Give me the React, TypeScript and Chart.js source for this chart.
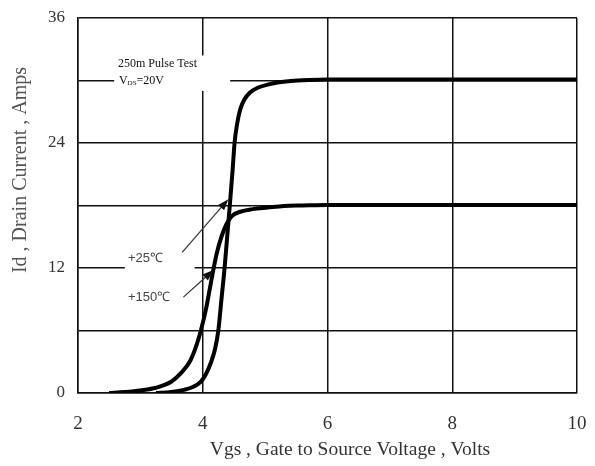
import React, { useEffect, useRef } from "react";
import { Chart, registerables } from "chart.js";

Chart.register(...registerables);

// Vgs (V) vs Id (A) at +25°C
const vgs25 = [3.25, 3.5, 3.7, 3.85, 3.97, 4.05, 4.13, 4.2, 4.25, 4.3, 4.35, 4.4, 4.44, 4.48, 4.51, 4.55, 4.6, 4.67, 4.75, 4.88, 5.04, 5.2, 5.41, 5.7, 6, 7, 8, 9, 10];
const id25 = [0, 0.1, 0.3, 0.6, 1.1, 1.8, 2.9, 4.3, 6, 9, 12, 15.6, 18.5, 21.5, 24, 25.8, 27.2, 28.2, 28.8, 29.3, 29.6, 29.8, 29.95, 30.05, 30.1, 30.1, 30.1, 30.1, 30.1];

// Vgs (V) vs Id (A) at +150°C
const vgs150 = [2.5, 2.75, 3.0, 3.25, 3.5, 3.65, 3.8, 3.9, 3.97, 4.05, 4.15, 4.22, 4.3, 4.38, 4.47, 4.6, 4.8, 5.04, 5.3, 5.6, 6, 7, 8, 9, 10];
const id150 = [0, 0.1, 0.25, 0.5, 1.1, 1.9, 3.1, 4.6, 6.0, 8.0, 11.2, 13.3, 15.0, 16.2, 17.0, 17.4, 17.65, 17.8, 17.95, 18.0, 18.05, 18.05, 18.05, 18.05, 18.05];

const xTickValues = [2, 4, 6, 8, 10];
const yTickLabels = [0, 12, 24, 36];

const X_TITLE = "Vgs , Gate to Source Voltage , Volts";
const Y_TITLE = "Id , Drain Current , Amps";
const NOTE1 = "250m Pulse Test";
const LABEL25 = "+25\u2103";
const LABEL150 = "+150\u2103";

function drawArrow(ctx: CanvasRenderingContext2D, x1: number, y1: number, x2: number, y2: number) {
  const ang = Math.atan2(y2 - y1, x2 - x1);
  const len = 11;
  const w = 4;
  ctx.beginPath();
  ctx.moveTo(x1, y1);
  ctx.lineTo(x2 - Math.cos(ang) * len * 0.8, y2 - Math.sin(ang) * len * 0.8);
  ctx.stroke();
  ctx.beginPath();
  ctx.moveTo(x2, y2);
  ctx.lineTo(x2 - Math.cos(ang) * len - Math.sin(ang) * w, y2 - Math.sin(ang) * len + Math.cos(ang) * w);
  ctx.lineTo(x2 - Math.cos(ang) * len + Math.sin(ang) * w, y2 - Math.sin(ang) * len - Math.cos(ang) * w);
  ctx.closePath();
  ctx.fill();
}

const annotationPlugin = {
  id: "annotations",
  beforeDatasetsDraw(chart: any) {
    const { ctx, scales } = chart;
    const xs = scales.x;
    const ys = scales.y;
    ctx.save();
    ctx.fillStyle = "#ffffff";
    const nx1 = xs.getPixelForValue(2.58);
    const nx2 = xs.getPixelForValue(4.44);
    const ny1 = ys.getPixelForValue(32.4);
    const ny2 = ys.getPixelForValue(29.0);
    ctx.fillRect(nx1, ny1, nx2 - nx1, ny2 - ny1);
    const lx1 = xs.getPixelForValue(2.75);
    const lx2 = xs.getPixelForValue(3.87);
    const ly1 = ys.getPixelForValue(14.0);
    const ly2 = ys.getPixelForValue(8.6);
    ctx.fillRect(lx1, ly1, lx2 - lx1, ly2 - ly1);
    ctx.restore();
  },
  afterDatasetsDraw(chart: any) {
    const { ctx, scales } = chart;
    const xs = scales.x;
    const ys = scales.y;
    ctx.save();
    ctx.fillStyle = "#111";
    ctx.textBaseline = "middle";
    ctx.textAlign = "left";
    ctx.font = "12px 'Liberation Serif'";
    const tx = xs.getPixelForValue(2.64);
    ctx.fillText(NOTE1, tx, ys.getPixelForValue(31.6));
    const vy = ys.getPixelForValue(30.0);
    ctx.fillText("V", tx + 1, vy);
    const vw = ctx.measureText("V").width;
    ctx.font = "7px 'Liberation Serif'";
    ctx.fillText("DS", tx + 1 + vw, vy + 3);
    const dw = ctx.measureText("DS").width;
    ctx.font = "12px 'Liberation Serif'";
    ctx.fillText("=20V", tx + 1 + vw + dw, vy);

    ctx.fillStyle = "#444";
    ctx.font = "13px 'Liberation Sans'";
    ctx.fillText(LABEL25, xs.getPixelForValue(2.8), ys.getPixelForValue(12.95));
    ctx.fillText(LABEL150, xs.getPixelForValue(2.8), ys.getPixelForValue(9.2));

    ctx.strokeStyle = "#333";
    ctx.fillStyle = "#111";
    ctx.lineWidth = 1.2;
    drawArrow(ctx, xs.getPixelForValue(3.67), ys.getPixelForValue(13.5), xs.getPixelForValue(4.41), ys.getPixelForValue(18.6));
    drawArrow(ctx, xs.getPixelForValue(3.69), ys.getPixelForValue(9.2), xs.getPixelForValue(4.17), ys.getPixelForValue(11.8));
    ctx.restore();
  },
  afterDraw(chart: any) {
    const { ctx, chartArea } = chart;
    ctx.save();
    ctx.fillStyle = "#333";
    ctx.textAlign = "center";
    ctx.textBaseline = "middle";
    ctx.font = "19.5px 'Liberation Serif'";
    ctx.fillText(X_TITLE, chartArea.left + 272, chartArea.bottom + 57);
    ctx.fillStyle = "#555";
    ctx.font = "20px 'Liberation Serif'";
    ctx.translate(21, chartArea.top + 152);
    ctx.rotate(-Math.PI / 2);
    ctx.fillText(Y_TITLE, 0, 0);
    ctx.restore();
  },
};

export default function App() {
  const ref = useRef<HTMLCanvasElement | null>(null);
  useEffect(() => {
    document.body.style.margin = "0";
    const canvas = ref.current;
    if (!canvas) return;
    const chart = new Chart(canvas, {
      type: "line",
      data: {
        datasets: [
          {
            label: "+25°C",
            data: vgs25.map((v, i) => ({ x: v, y: id25[i] })),
            borderColor: "#000",
            borderWidth: 4,
            pointRadius: 0,
            cubicInterpolationMode: "monotone",
            fill: false,
          },
          {
            label: "+150°C",
            data: vgs150.map((v, i) => ({ x: v, y: id150[i] })),
            borderColor: "#000",
            borderWidth: 4,
            pointRadius: 0,
            cubicInterpolationMode: "monotone",
            fill: false,
          },
        ],
      },
      options: {
        animation: false,
        responsive: false,
        maintainAspectRatio: false,
        layout: { padding: { top: 18, right: 18, left: 0, bottom: 0 } },
        plugins: { legend: { display: false }, tooltip: { enabled: false } },
        scales: {
          x: {
            type: "linear",
            min: 2,
            max: 10,
            afterFit: (s: any) => {
              s.height = 73;
              s.paddingLeft = 0;
              s.paddingRight = 0;
            },
            afterBuildTicks: (s: any) => { s.ticks = xTickValues.map((v) => ({ value: v })); },
            ticks: {
              font: { family: "'Liberation Serif'", size: 19 },
              color: "#333",
              padding: 20,
              maxRotation: 0,
            },
            grid: { color: "#111", lineWidth: 1.5, drawTicks: false },
            border: { color: "#111", width: 1.5 },
          },
          y: {
            type: "linear",
            min: 0,
            max: 36,
            afterFit: (s: any) => {
              s.width = 78;
              s.paddingTop = 0;
              s.paddingBottom = 0;
            },
            ticks: {
              stepSize: 6,
              font: { family: "'Liberation Serif'", size: 17 },
              color: "#333",
              padding: 13,
              callback: (v: any) => (yTickLabels.includes(Number(v)) ? String(v) : ""),
            },
            grid: { color: "#111", lineWidth: 1.5, drawTicks: false },
            border: { color: "#111", width: 1.5 },
          },
        },
      },
      plugins: [annotationPlugin],
    } as any);
    return () => chart.destroy();
  }, []);
  return <canvas ref={ref} width={595} height={466} style={{ display: "block" }} />;
}
